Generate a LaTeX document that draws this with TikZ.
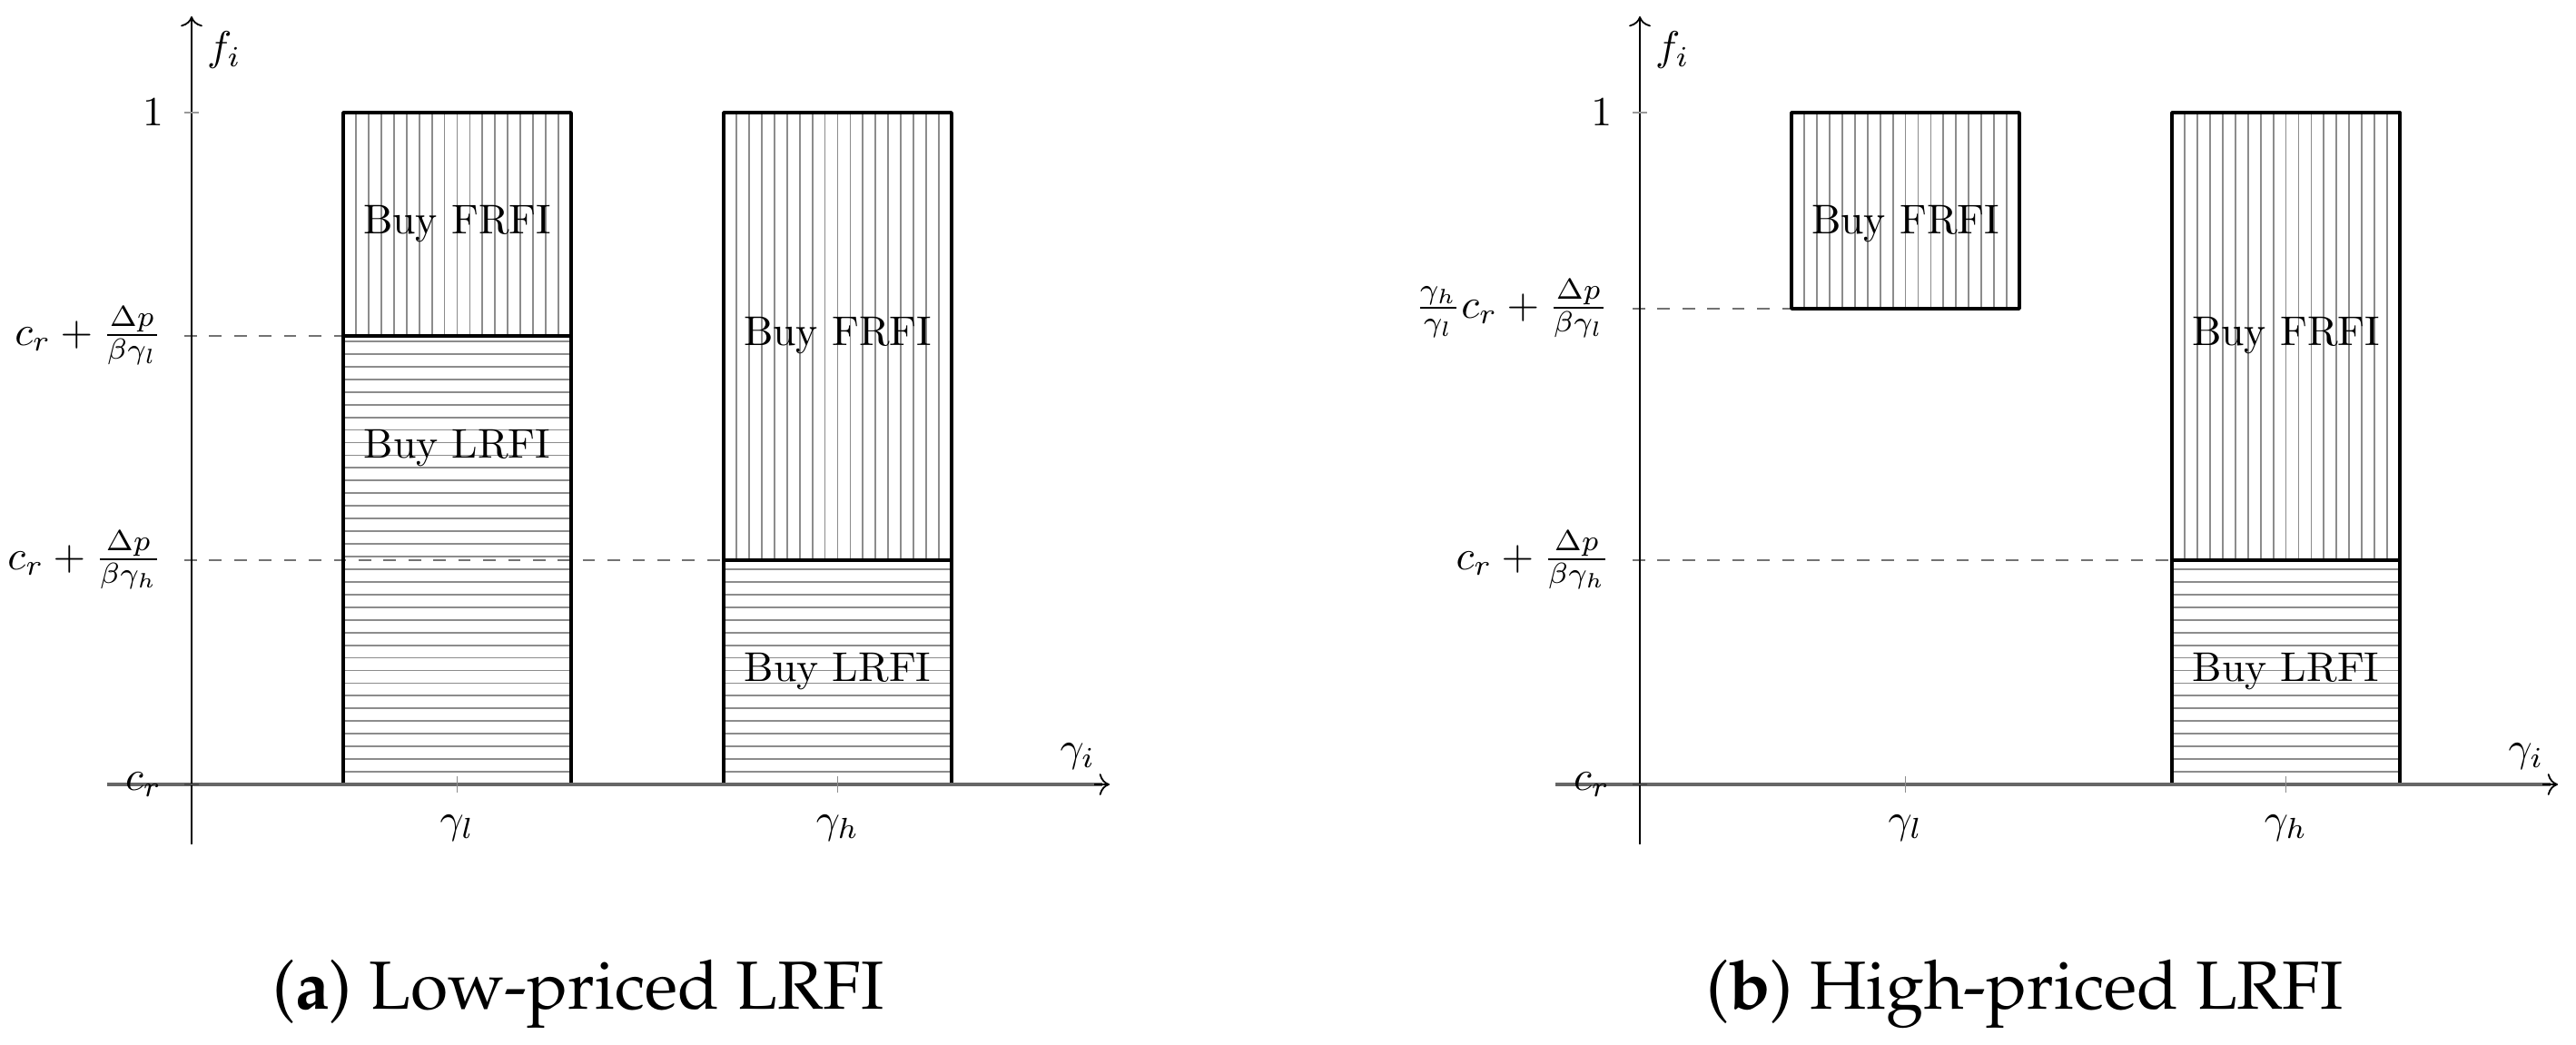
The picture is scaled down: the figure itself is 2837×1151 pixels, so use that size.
\documentclass[tikz,border=0pt]{standalone}
\usetikzlibrary{arrows.meta}
\newcommand{\capfont}{\fontencoding{T1}\fontfamily{ppl}\fontsize{16.4}{19}\selectfont}
\newcommand{\myvhatch}[4]{%
  \foreach \k in {1,...,17}{\draw[hatchline] ({#1+\k*13.944},#2) -- ({#1+\k*13.944},#4);}}
\newcommand{\myhhatch}[4]{%
  \pgfmathtruncatemacro{\nlines}{floor((#4-#2)/13.944-0.3)}%
  \foreach \k in {1,...,\nlines}{\draw[hatchline] (#1,{#4-\k*13.944}) -- (#3,{#4-\k*13.944});}}
\begin{document}
\begin{tikzpicture}[x=0.2188pt,y=-0.2188pt,
  hatchline/.style={draw=black!45,line width=0.4pt},
  barbox/.style={draw=black,line width=0.8pt,line join=round},
  yaxis/.style={draw=black,line width=0.4pt,-{To}},
  xaxis/.style={draw=black!60,line width=0.9pt},
  guide/.style={draw=black!55,dashed,line width=0.6pt},
  ytick/.style={draw=black!40,line width=0.6pt},
  xtick/.style={draw=black!45,line width=0.3pt},
  lbl/.style={anchor=east,inner sep=0pt},
  buy/.style={inner sep=0pt},
  caption/.style={inner sep=0pt,anchor=base}]
\useasboundingbox (0,0) rectangle (2837,1151);

% ---------------- panel (a) ----------------
\begin{scope}
  \myvhatch{378}{124}{629}{370}
  \myhhatch{378}{370}{629}{864}
  \myvhatch{797}{124}{1048}{617}
  \myhhatch{797}{617}{1048}{864}
  \draw[guide] (203,370) -- (378,370);
  \draw[guide] (203,617) -- (797,617);
  \draw[barbox] (378,124) rectangle (629,864);
  \draw[barbox] (378,370) -- (629,370);
  \draw[barbox] (797,124) rectangle (1048,864);
  \draw[barbox] (797,617) -- (1048,617);
  \draw[xaxis] (118,864) -- (1214,864);
  \draw[yaxis] (1205,864) -- (1222,864);
  \draw[yaxis] (211,930) -- (211,18);
  \draw[ytick] (203,124) -- (219,124);
  \draw[ytick,draw=black!70] (203,864) -- (219,864);
  \draw[xtick] (503.5,855) -- (503.5,873);
  \draw[xtick] (922.5,855) -- (922.5,873);
  \node (fa) at (247,55) {$f_i$};
  \node (gia) at (1187,833) {$\gamma_i$};
  \node[lbl] (onea) at (181,124) {$1$};
  \node[lbl] (la) at (179,370) {$c_r+\frac{\Delta p}{\beta\gamma_l}$};
  \node[lbl] (ha) at (179,617) {$c_r+\frac{\Delta p}{\beta\gamma_h}$};
  \node[lbl] (cra) at (179,864) {$c_r$};
  \node[anchor=base] (gla) at (503.5,917) {$\gamma_l$};
  \node[anchor=base] (gha) at (922.5,917) {$\gamma_h$};
  \node[buy] (fa1) at (503.5,247) {Buy FRFI};
  \node[buy] (la1) at (503.5,494) {Buy LRFI};
  \node[buy] (fa2) at (922.5,370) {Buy FRFI};
  \node[buy] (la2) at (922.5,740) {Buy LRFI};
\end{scope}

% ---------------- panel (b) ----------------
\begin{scope}[shift={(1595,0)}]
  \myvhatch{378}{124}{629}{340}
  \myvhatch{797}{124}{1048}{617}
  \myhhatch{797}{617}{1048}{864}
  \draw[guide] (203,340) -- (378,340);
  \draw[guide] (203,617) -- (797,617);
  \draw[barbox] (378,124) rectangle (629,340);
  \draw[barbox] (797,124) rectangle (1048,864);
  \draw[barbox] (797,617) -- (1048,617);
  \draw[xaxis] (118,864) -- (1214,864);
  \draw[yaxis] (1205,864) -- (1222,864);
  \draw[yaxis] (211,930) -- (211,18);
  \draw[ytick] (203,124) -- (219,124);
  \draw[ytick,draw=black!70] (203,864) -- (219,864);
  \draw[xtick] (503.5,855) -- (503.5,873);
  \draw[xtick] (922.5,855) -- (922.5,873);
  \node (fb) at (247,55) {$f_i$};
  \node (gib) at (1187,833) {$\gamma_i$};
  \node[lbl] (oneb) at (181,124) {$1$};
  \node[lbl] (lb) at (177,340) {$\frac{\gamma_h}{\gamma_l}c_r+\frac{\Delta p}{\beta\gamma_l}$};
  \node[lbl] (hb) at (179,617) {$c_r+\frac{\Delta p}{\beta\gamma_h}$};
  \node[lbl] (crb) at (179,864) {$c_r$};
  \node[anchor=base] (glb) at (503.5,917) {$\gamma_l$};
  \node[anchor=base] (ghb) at (922.5,917) {$\gamma_h$};
  \node[buy] (fb1) at (503.5,247) {Buy FRFI};
  \node[buy] (fb2) at (922.5,370) {Buy FRFI};
  \node[buy] (lb2) at (922.5,740) {Buy LRFI};
\end{scope}

\node[caption] (capa) at (637,1111) {\capfont(\textbf{a}) Low-priced LRFI};
\node[caption] (capb) at (2230,1111) {\capfont(\textbf{b}) High-priced LRFI};
\end{tikzpicture}
\end{document}
